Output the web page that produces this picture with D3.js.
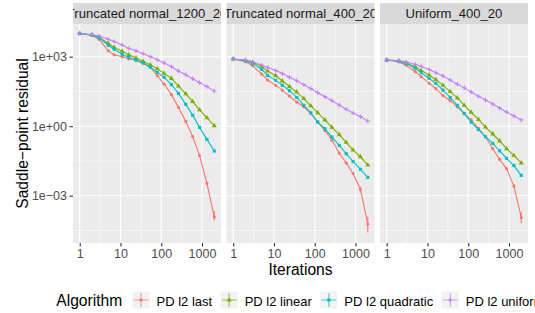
<!DOCTYPE html>
<html>
<head>
<meta charset="utf-8">
<script src="https://cdn.jsdelivr.net/npm/d3@7"></script>
<style>
  body { margin: 0; background: #fff; }
  svg { display: block; font-family: "Liberation Sans", Arial, sans-serif; }
</style>
</head>
<body>
<div id="chart"></div>
<script>
var iterations = [1, 2, 3, 5, 7, 11, 16, 24, 36, 54, 80, 118, 178, 264, 400, 590, 870, 1320, 2000];

var panelNames = ["Truncated normal_1200_20", "Truncated normal_400_20", "Uniform_400_20"];
var algorithms = ["PD l2 last", "PD l2 linear", "PD l2 quadratic", "PD l2 uniform"];
var colors = ["#F8766D", "#7CAE00", "#00BFC4", "#C77CFF"];

var xTicks = [1, 10, 100, 1000];
var xTickLabels = ["1", "10", "100", "1000"];
var yTicks = [1e3, 1e0, 1e-3];
var yTickLabels = ["1e+03", "1e+00", "1e\u221203"];

// Truncated normal_1200_20
var tn1200_last      = [1.0e4, 8.3e3, 5.6e3, 1.8e3, 1.2e3, 1.0e3, 8.1e2, 6.8e2, 5.1e2, 3.5e2, 1.5e2, 66, 23, 6.5, 1.6, 0.36, 0.054, 3.4e-3, 1.2e-4];
var tn1200_linear    = [1.0e4, 8.7e3, 6.8e3, 3.8e3, 2.5e3, 1.7e3, 1.2e3, 8.7e2, 6.3e2, 4.4e2, 3.0e2, 1.9e2, 115, 54, 25, 11.5, 5.1, 2.3, 1.05];
var tn1200_quadratic = [1.0e4, 8.7e3, 6.5e3, 3.1e3, 2.1e3, 1.26e3, 9.3e2, 7.2e2, 5.5e2, 3.5e2, 2.1e2, 129, 62, 26, 8.7, 3.0, 0.89, 0.27, 0.085];
var tn1200_uniform   = [1.0e4, 8.9e3, 7.8e3, 5.6e3, 4.5e3, 3.2e3, 2.3e3, 1.8e3, 1.35e3, 1.0e3, 7.4e2, 5.4e2, 3.7e2, 2.4e2, 166, 112, 76, 51, 33];

// Truncated normal_400_20
var tn400_last      = [794, 603, 407, 178, 98, 58, 36, 20, 11, 6.9, 3.5, 1.55, 0.65, 0.25, 0.068, 0.026, 9.1e-3, 1.9e-3, 6.0e-5];
var tn400_linear    = [794, 692, 575, 372, 240, 151, 89, 51, 30, 15.5, 7.6, 3.8, 1.86, 0.89, 0.43, 0.20, 0.093, 0.048, 0.021];
var tn400_quadratic = [794, 676, 513, 282, 155, 95, 58, 34, 17.4, 7.9, 3.8, 1.51, 0.78, 0.34, 0.148, 0.065, 0.030, 0.0138, 6.2e-3];
var tn400_uniform   = [794, 724, 603, 427, 339, 251, 186, 129, 91, 62, 42, 28, 18.6, 12.6, 8.1, 5.4, 3.7, 2.6, 1.66];

// Uniform_400_20
var un400_last      = [724, 589, 427, 224, 138, 71, 42, 21, 12.6, 6.9, 3.5, 1.86, 0.81, 0.35, 0.107, 0.037, 0.0148, 2.6e-3, 1.15e-4];
var un400_linear    = [724, 646, 550, 372, 251, 162, 102, 58, 31, 16.6, 7.9, 4.0, 1.95, 0.91, 0.46, 0.23, 0.107, 0.054, 0.026];
var un400_quadratic = [724, 631, 513, 316, 204, 115, 71, 36, 17.4, 7.9, 3.5, 1.51, 0.72, 0.35, 0.18, 0.087, 0.041, 0.020, 7.6e-3];
var un400_uniform   = [724, 676, 589, 468, 380, 282, 204, 148, 98, 65, 45, 30, 19.5, 13.5, 9.1, 6.0, 4.1, 2.75, 1.86];

// error ranges [low, high] of "PD l2 last" at the last three iterations (others too small to see)
var tn1200_lastErr = [[0.050, 0.058], [2.9e-3, 3.9e-3], [8.5e-5, 2.2e-4]];
var tn400_lastErr  = [[8.4e-3, 9.9e-3], [1.35e-3, 2.5e-3], [2.6e-5, 1.23e-4]];
var un400_lastErr  = [[0.0135, 0.0163], [2.2e-3, 3.1e-3], [6.5e-5, 2.0e-4]];

var panelSeries = [
  [tn1200_last, tn1200_linear, tn1200_quadratic, tn1200_uniform],
  [tn400_last, tn400_linear, tn400_quadratic, tn400_uniform],
  [un400_last, un400_linear, un400_quadratic, un400_uniform]
];
var panelErr = [tn1200_lastErr, tn400_lastErr, un400_lastErr];

// Boilerplate:
var width = 535, height = 313;
var panelW = 148, gap = 5.5, left = 73;
var stripTop = 3, panelTop = 24, panelBottom = 243;

var svg = d3.select("#chart").append("svg")
  .attr("width", width)
  .attr("height", height);

var xscale = d3.scaleLog()
  .domain([Math.pow(10, -0.165), Math.pow(10, 3.466)])
  .range([0, panelW]);

var yscale = d3.scaleLog()
  .domain([Math.pow(10, -5.04), Math.pow(10, 4.41)])
  .range([panelBottom, panelTop]);

// minor breaks sit half way between decades on the log scale
var xMinor = xTicks.slice(0, -1).map(d => d * Math.sqrt(10));
var yMinor = [Math.pow(10, 1.5), Math.pow(10, -1.5), Math.pow(10, -4.5)];

// shape for each algorithm
function marker(k) {
  if (k == 0) return d3.symbol(d3.symbolCircle, 8)();
  if (k == 1) return d3.symbol(d3.symbolTriangle, 11)();
  if (k == 2) return d3.symbol(d3.symbolSquare, 10)();
  return "M-2.2,0H2.2M0,-2.2V2.2";
}

panelNames.forEach(function(name, p) {
  var x0 = left + p * (panelW + gap);
  var g = svg.append("g").attr("transform", "translate(" + x0 + ",0)");

  // strip
  svg.append("clipPath").attr("id", "strip" + p)
    .append("rect").attr("x", 0).attr("y", stripTop).attr("width", panelW).attr("height", panelTop - stripTop);
  g.append("rect")
    .attr("x", 0).attr("y", stripTop)
    .attr("width", panelW).attr("height", panelTop - stripTop)
    .attr("fill", "#D9D9D9");
  g.append("text")
    .attr("clip-path", "url(#strip" + p + ")")
    .attr("x", panelW / 2).attr("y", 18.2)
    .attr("text-anchor", "middle")
    .style("font-size", "13.1px")
    .attr("fill", "#1A1A1A")
    .text(name);

  // panel background + grid
  g.append("rect")
    .attr("x", 0).attr("y", panelTop)
    .attr("width", panelW).attr("height", panelBottom - panelTop)
    .attr("fill", "#EBEBEB");

  g.selectAll(".ymin").data(yMinor).enter().append("line")
    .attr("x1", 0).attr("x2", panelW)
    .attr("y1", d => yscale(d)).attr("y2", d => yscale(d))
    .attr("stroke", "#fff").attr("stroke-width", 0.55);
  g.selectAll(".xmin").data(xMinor).enter().append("line")
    .attr("y1", panelTop).attr("y2", panelBottom)
    .attr("x1", d => xscale(d)).attr("x2", d => xscale(d))
    .attr("stroke", "#fff").attr("stroke-width", 0.55);
  g.selectAll(".ymaj").data(yTicks).enter().append("line")
    .attr("x1", 0).attr("x2", panelW)
    .attr("y1", d => yscale(d)).attr("y2", d => yscale(d))
    .attr("stroke", "#fff").attr("stroke-width", 1.1);
  g.selectAll(".xmaj").data(xTicks).enter().append("line")
    .attr("y1", panelTop).attr("y2", panelBottom)
    .attr("x1", d => xscale(d)).attr("x2", d => xscale(d))
    .attr("stroke", "#fff").attr("stroke-width", 1.1);

  // x axis
  var axisX = d3.axisBottom(xscale)
    .tickValues(xTicks)
    .tickFormat((d, i) => xTickLabels[i])
    .tickSize(3.5)
    .tickPadding(2.5);
  var ax = g.append("g")
    .attr("transform", "translate(0," + panelBottom + ")")
    .call(axisX);
  ax.select(".domain").remove();
  ax.selectAll("line").attr("stroke", "#333333").attr("stroke-width", 1.07);
  ax.selectAll("text").attr("fill", "#4D4D4D").style("font-size", "12.5px").attr("font-family", null);

  // y axis on the first panel only
  if (p == 0) {
    var axisY = d3.axisLeft(yscale)
      .tickValues(yTicks)
      .tickFormat((d, i) => yTickLabels[i])
      .tickSize(3.5)
      .tickPadding(2.5);
    var ay = g.append("g").call(axisY);
    ay.select(".domain").remove();
    ay.selectAll("line").attr("stroke", "#333333").attr("stroke-width", 1.07);
    ay.selectAll("text").attr("fill", "#4D4D4D").style("font-size", "12.5px").attr("font-family", null);
  }

  // series
  var line = d3.line()
    .x((d, i) => xscale(iterations[i]))
    .y(d => yscale(d));

  panelSeries[p].forEach(function(vals, k) {
    g.append("path")
      .attr("d", line(vals))
      .attr("fill", "none")
      .attr("stroke", colors[k])
      .attr("stroke-width", 1.1);

    if (k == 0) {
      var n = iterations.length;
      g.selectAll(".err" + k).data(panelErr[p]).enter().append("line")
        .attr("x1", (d, i) => xscale(iterations[n - 3 + i]))
        .attr("x2", (d, i) => xscale(iterations[n - 3 + i]))
        .attr("y1", d => yscale(d[0]))
        .attr("y2", d => yscale(d[1]))
        .attr("stroke", colors[k])
        .attr("stroke-width", 1.1);
    }

    g.selectAll(".pt" + k).data(vals).enter().append("path")
      .attr("transform", (d, i) => "translate(" + xscale(iterations[i]) + "," + yscale(d) + ")")
      .attr("d", marker(k))
      .attr("fill", k == 3 ? "none" : colors[k])
      .attr("stroke", k == 3 ? colors[k] : "none")
      .attr("stroke-width", 1);
  });
});

// axis titles
svg.append("text")
  .attr("transform", "rotate(-90)")
  .attr("x", -(panelTop + panelBottom) / 2)
  .attr("y", 27.5)
  .attr("text-anchor", "middle")
  .style("font-size", "15.6px")
  .text("Saddle\u2212point residual");

svg.append("text")
  .attr("x", (left + left + 3 * panelW + 2 * gap) / 2)
  .attr("y", 275)
  .attr("text-anchor", "middle")
  .style("font-size", "15.6px")
  .text("Iterations");

// legend
var legend = svg.append("g");
legend.append("text")
  .attr("x", 56.3).attr("y", 306.3)
  .style("font-size", "15.6px")
  .text("Algorithm");

var keyX = 132.5, keyY = 291.5, keySize = 17;
algorithms.forEach(function(a, k) {
  var kg = legend.append("g").attr("transform", "translate(" + keyX + "," + keyY + ")");
  kg.append("rect").attr("width", keySize).attr("height", keySize).attr("fill", "#F2F2F2");
  kg.append("line")
    .attr("x1", 1).attr("x2", keySize - 1)
    .attr("y1", keySize / 2).attr("y2", keySize / 2)
    .attr("stroke", colors[k]).attr("stroke-width", 1).attr("opacity", 0.75);
  kg.append("line")
    .attr("x1", keySize / 2).attr("x2", keySize / 2)
    .attr("y1", 1.5).attr("y2", keySize - 1.5)
    .attr("stroke", colors[k]).attr("stroke-width", 1).attr("opacity", 0.75);
  kg.append("path")
    .attr("transform", "translate(" + keySize / 2 + "," + keySize / 2 + ")")
    .attr("d", marker(k))
    .attr("fill", k == 3 ? "none" : colors[k])
    .attr("stroke", k == 3 ? colors[k] : "none");
  var label = legend.append("text")
    .attr("x", keyX + keySize + 7)
    .attr("y", 305.5)
    .style("font-size", "13px")
    .text(a);
  keyX = keyX + keySize + 7 + label.node().getComputedTextLength() + 8.5;
});
</script>
</body>
</html>
